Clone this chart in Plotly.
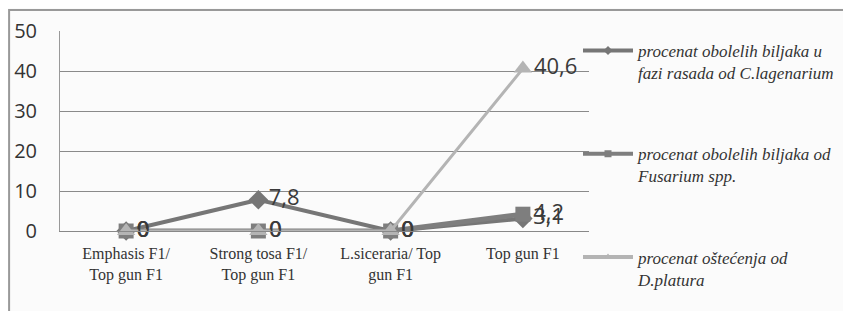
import plotly.graph_objects as go

categories = ["Emphasis F1/<br>Top gun F1", "Strong tosa F1/<br>Top gun F1",
              "L.siceraria/ Top<br>gun F1", "Top gun F1"]
lagenarium = [0, 7.8, 0, 3.1]
fusarium = [0, 0, 0, 4.2]
platura = [0, 0, 0, 40.6]
labels_lagenarium = ["0", "7,8", "0", "3,1"]
labels_fusarium = ["0", "0", "0", "4,2"]
labels_platura = ["0", "0", "0", "40,6"]
names = ["procenat obolelih biljaka u<br>fazi rasada od C.lagenarium",
         "procenat obolelih biljaka od<br>Fusarium spp.",
         "procenat oštećenja od<br>D.platura"]
y_ticks = [0, 10, 20, 30, 40, 50]

SANS = "Open Sans, DejaVu Sans, sans-serif"
SERIF = "Liberation Serif, Times New Roman, serif"

# page body has an 8px margin; figure is sized to fill the rest of the window
W, H = 843, 303
L, T, PW, PH = 52, 23, 530, 200

fig = go.Figure()
specs = [
    (lagenarium, labels_lagenarium, names[0], "#767676", 4, "diamond", 15),
    (fusarium, labels_fusarium, names[1], "#7e7e7e", 5, "square", 15),
    (platura, labels_platura, names[2], "#b4b4b4", 3, "triangle-up", 16),
]
for i, (vals, labs, nm, col, w, sym, sz) in enumerate(specs):
    fig.add_trace(go.Scatter(
        x=categories, y=vals, name=nm, mode="lines+markers+text",
        text=labs, textposition="middle right",
        textfont=dict(family=SANS, size=22, color="#3a3a3a"),
        line=dict(color=col, width=w),
        marker=dict(symbol=sym, size=sz, color=col),
        showlegend=False, cliponaxis=False,
    ))
# legend entries (small markers as in the reference legend)
for i, (vals, labs, nm, col, w, sym, sz) in enumerate(specs):
    fig.add_trace(go.Scatter(
        x=[None], y=[None], name=nm, mode="lines+markers",
        line=dict(color=col, width=4),
        marker=dict(symbol=sym, size=7, color=col),
        legendgroup=str(i), showlegend=True,
    ))

fig.update_layout(
    width=W, height=H,
    margin=dict(l=L, r=W - L - PW, t=T, b=H - T - PH),
    paper_bgcolor="#fbfbfb", plot_bgcolor="#fbfbfb",
    showlegend=True,
    legend=dict(x=(570 - L) / PW, xanchor="left", y=(PH - 2) / PH, yanchor="top",
                font=dict(family=SERIF, size=17, color="#333", style="italic"),
                tracegroupgap=56, itemwidth=50, bgcolor="rgba(0,0,0,0)",
                traceorder="grouped", valign="top", maxheight=H),
    xaxis=dict(type="category", range=[-0.5, 3.5], showgrid=False, showline=True,
               linecolor="#888", linewidth=1,
               tickfont=dict(family=SERIF, size=16, color="#333"),
               ticks="", fixedrange=True, automargin=False, ticklabelstandoff=8),
    yaxis=dict(range=[0, 50], tickvals=y_ticks, showgrid=True, gridcolor="#8a8a8a", gridwidth=1,
               showline=True, linecolor="#999", linewidth=1, zeroline=False,
               tickfont=dict(family=SANS, size=20, color="#333"),
               ticklabelstandoff=18, ticks="", automargin=False),
    shapes=[dict(type="rect", xref="paper", yref="paper",
                 x0=(1 - L) / PW, x1=(W + 20 - L) / PW,
                 y0=-(H - T - PH + 30) / PH, y1=(T + PH - 2) / PH,
                 line=dict(color="#999", width=2), fillcolor="rgba(0,0,0,0)", layer="below")],
)

fig.write_html("out.html")
